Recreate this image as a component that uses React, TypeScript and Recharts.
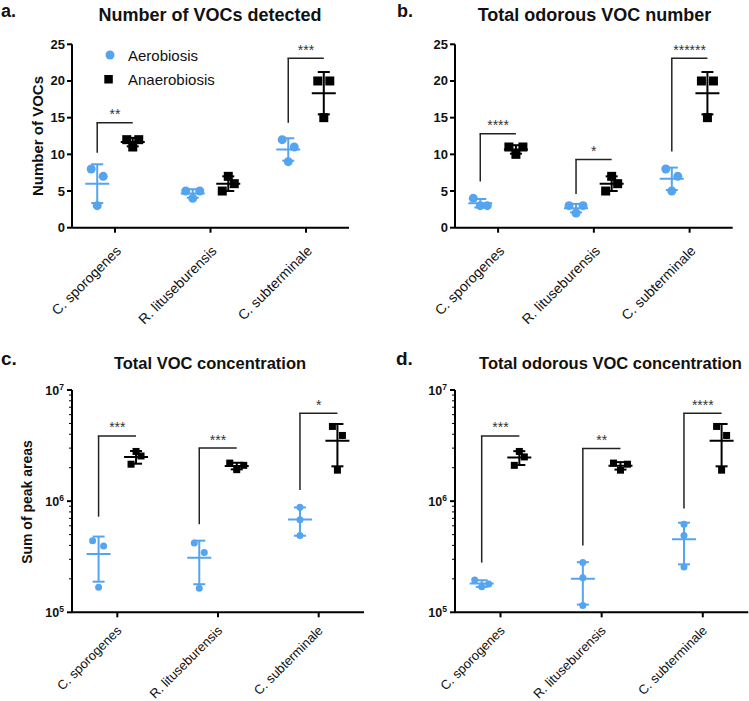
import React from 'react';
import { ScatterChart, Scatter, XAxis, YAxis, ErrorBar, ReferenceLine } from 'recharts';

const categories = ['C. sporogenes', 'R. lituseburensis', 'C. subterminale'];
const seriesNames = ['Aerobiosis', 'Anaerobiosis'];

// Panel a: Number of VOCs detected
const aAero = [[8, 7, 3], [5, 5, 4], [12, 11, 9]];
const aAnaero = [[12, 12, 11], [7, 6, 5], [20, 20, 15]];
const aAeroJitter = [[-6, 6, 0], [-7, 7, 0], [-6, 6, 0]];
const aAnaeroJitter = [[-6, 6, 0], [0, 6, -6], [-6, 6, 0]];
const aBracketLow = [10.2, null, 14.3];
const aBracketHigh = [14.3, null, 23.1];
const aBracketLabel = ['**', '', '***'];

// Panel b: Total odorous VOC number
const bAero = [[4, 3, 3], [3, 3, 2], [8, 7, 5]];
const bAnaero = [[11, 11, 10], [7, 6, 5], [20, 20, 15]];
const bAeroJitter = [[-7, 0, 7], [-7, 7, 0], [-6, 6, 0]];
const bAnaeroJitter = [[-7, 7, 0], [0, 6, -6], [-6, 6, 0]];
const bBracketLow = [6.3, 4.6, 10.4];
const bBracketHigh = [12.8, 9.3, 23.1];
const bBracketLabel = ['****', '*', '******'];

// Panel c: Total VOC concentration
const cAero = [[4.4e5, 3.95e5, 1.68e5], [4.2e5, 3.45e5, 1.65e5], [8.8e5, 6.8e5, 4.9e5]];
const cAnaero = [[2.8e6, 2.55e6, 2.15e6], [2.2e6, 2.1e6, 1.92e6], [4.7e6, 3.9e6, 1.9e6]];
const cAeroJitter = [[-6, 5, 0], [-5, 5, 0], [0, 0, 0]];
const cAnaeroJitter = [[0, 5, -5], [-7, 7, 0], [-5, 5, 0]];
const cBracketLow = [7.25e5, 6.2e5, 1.26e6];
const cBracketHigh = [3.86e6, 3.0e6, 6.17e6];
const cBracketLabel = ['***', '***', '*'];

// Panel d: Total odorous VOC concentration
const dAero = [[1.95e5, 1.7e5, 1.8e5], [2.8e5, 2.05e5, 1.15e5], [6.2e5, 4.9e5, 2.55e5]];
const dAnaero = [[2.8e6, 2.5e6, 2.1e6], [2.2e6, 2.15e6, 1.9e6], [4.7e6, 3.9e6, 1.9e6]];
const dAeroJitter = [[-7, 0, 7], [0, 0, 0], [0, 0, 0]];
const dAnaeroJitter = [[0, 5, -5], [-7, 7, 0], [-5, 5, 0]];
const dBracketLow = [2.8e5, 4.0e5, 8.6e5];
const dBracketHigh = [3.86e6, 2.98e6, 6.17e6];
const dBracketLabel = ['***', '**', '****'];

const linearTicks = [0, 5, 10, 15, 20, 25];
const logTicks = [1e5, 2e5, 3e5, 4e5, 5e5, 6e5, 7e5, 8e5, 9e5, 1e6, 2e6, 3e6, 4e6, 5e6, 6e6, 7e6, 8e6, 9e6, 1e7];

const BLUE = '#55a4ef';
const BLACK = '#000000';
const FONT = '"Liberation Sans", Arial, Helvetica, sans-serif';
const OFF = 0.186;

const mean = (a: number[]) => a.reduce((s, v) => s + v, 0) / a.length;
const sd = (a: number[]) => {
  const m = mean(a);
  return Math.sqrt(a.reduce((s, v) => s + (v - m) * (v - m), 0) / (a.length - 1));
};

const makeXTick = (fontSize: number, dx: number, dy: number) => (props: any) => {
  const { x, y, payload } = props;
  return (
    <g>
      <line x1={x} x2={x} y1={y} y2={y + 5} stroke="#000" strokeWidth={2} />
      <text
        transform={`translate(${x + dx},${y + dy}) rotate(-45)`}
        textAnchor="end"
        fontSize={fontSize}
        fontFamily={FONT}
        fill="#111"
      >
        {categories[payload.value]}
      </text>
    </g>
  );
};

const YTickLinear = (props: any) => {
  const { x, y, payload } = props;
  return (
    <g>
      <line x1={x - 5} x2={x} y1={y} y2={y} stroke="#000" strokeWidth={2} />
      <text x={x - 7} y={y + 4.5} textAnchor="end" fontSize={13} fontWeight="bold" fontFamily={FONT} fill="#111">
        {payload.value}
      </text>
    </g>
  );
};

const YTickLog = (props: any) => {
  const { x, y, payload } = props;
  const e = Math.log10(payload.value);
  const major = Math.abs(e - Math.round(e)) < 1e-6;
  if (!major) {
    return <line x1={x - 3} x2={x} y1={y} y2={y} stroke="#000" strokeWidth={1} />;
  }
  return (
    <g>
      <line x1={x - 5} x2={x} y1={y} y2={y} stroke="#000" strokeWidth={2} />
      <text x={x - 8} y={y + 4.5} textAnchor="end" fontSize={12.5} fontWeight="bold" fontFamily={FONT} fill="#111">
        <tspan>10</tspan>
        <tspan dy={-5} fontSize={8.5}>{Math.round(e)}</tspan>
      </text>
    </g>
  );
};

type PanelProps = {
  left: number;
  top: number;
  width: number;
  height: number;
  margin: { top: number; right: number; bottom: number; left: number };
  aero: number[][];
  anaero: number[][];
  aeroJitter: number[][];
  anaeroJitter: number[][];
  brLow: (number | null)[];
  brHigh: (number | null)[];
  brLabel: string[];
  log: boolean;
  marker: number;
  xFont: number;
  xDx: number;
  xDy: number;
};

function Panel(p: PanelProps) {
  const aeroPts = p.aero.flatMap((vals, ci) => vals.map((v, k) => ({ x: ci - OFF, y: v, dx: p.aeroJitter[ci][k] })));
  const anaeroPts = p.anaero.flatMap((vals, ci) => vals.map((v, k) => ({ x: ci + OFF, y: v, dx: p.anaeroJitter[ci][k] })));
  const aeroStats = p.aero.map((vals, ci) => ({ x: ci - OFF, y: mean(vals), err: sd(vals) }));
  const anaeroStats = p.anaero.map((vals, ci) => ({ x: ci + OFF, y: mean(vals), err: sd(vals) }));
  const labels = p.brLabel
    .map((l, ci) => ({ x: ci, y: p.brHigh[ci], label: l }))
    .filter((d) => d.y != null);
  const r = p.marker / 2;
  const XTick = makeXTick(p.xFont, p.xDx, p.xDy);

  const circleShape = (s: any) => (
    <circle cx={s.cx + (s.payload?.dx || 0)} cy={s.cy} r={r} fill={BLUE} />
  );
  const squareShape = (s: any) => (
    <rect x={s.cx + (s.payload?.dx || 0) - r} y={s.cy - r} width={p.marker} height={p.marker} fill={BLACK} />
  );
  const meanShape = (color: string) => (s: any) => (
    <line x1={s.cx - 12} x2={s.cx + 12} y1={s.cy} y2={s.cy} stroke={color} strokeWidth={2} />
  );
  const labelShape = (s: any) => (
    <text x={s.cx} y={s.cy - 3.5} textAnchor="middle" fontSize={14} fontFamily={FONT} fill="#333">
      {s.payload?.label}
    </text>
  );

  return (
    <div style={{ position: 'absolute', left: p.left, top: p.top }}>
      <ScatterChart width={p.width} height={p.height} margin={p.margin}>
        <XAxis
          type="number"
          dataKey="x"
          domain={[-0.45, 2.45]}
          ticks={[0, 1, 2]}
          interval={0}
          allowDataOverflow
          tick={(t: any) => <XTick {...t} />}
          tickSize={0}
          tickMargin={0}
          tickLine={false}
          axisLine={{ stroke: '#000', strokeWidth: 2 }}
          height={80}
        />
        <YAxis
          type="number"
          dataKey="y"
          scale={p.log ? 'log' : 'linear'}
          domain={p.log ? [1e5, 1e7] : [0, 25]}
          ticks={p.log ? logTicks : linearTicks}
          interval={0}
          allowDataOverflow
          width={60}
          tick={(t: any) => (p.log ? <YTickLog {...t} /> : <YTickLinear {...t} />)}
          tickSize={0}
          tickMargin={0}
          tickLine={false}
          axisLine={{ stroke: '#000', strokeWidth: 2 }}
        />
        {p.brLow.map((lo, ci) =>
          lo == null ? null : (
            <ReferenceLine
              key={`v${ci}`}
              segment={[{ x: ci - OFF, y: lo }, { x: ci - OFF, y: p.brHigh[ci] as number }]}
              stroke="#222"
              strokeWidth={1.5}
              ifOverflow="visible"
            />
          )
        )}
        {p.brLow.map((lo, ci) =>
          lo == null ? null : (
            <ReferenceLine
              key={`h${ci}`}
              segment={[{ x: ci - OFF - 0.008, y: p.brHigh[ci] as number }, { x: ci + OFF, y: p.brHigh[ci] as number }]}
              stroke="#222"
              strokeWidth={1.5}
              ifOverflow="visible"
            />
          )
        )}
        <Scatter name={seriesNames[0]} data={aeroPts} shape={circleShape} isAnimationActive={false} />
        <Scatter name={seriesNames[1]} data={anaeroPts} shape={squareShape} isAnimationActive={false} />
        <Scatter data={aeroStats} shape={meanShape(BLUE)} isAnimationActive={false}>
          <ErrorBar dataKey="err" direction="y" width={6} stroke={BLUE} strokeWidth={2} isAnimationActive={false} />
        </Scatter>
        <Scatter data={anaeroStats} shape={meanShape(BLACK)} isAnimationActive={false}>
          <ErrorBar dataKey="err" direction="y" width={6} stroke={BLACK} strokeWidth={2} isAnimationActive={false} />
        </Scatter>
        <Scatter data={labels} shape={labelShape} isAnimationActive={false} />
      </ScatterChart>
    </div>
  );
}

export default function App() {
  return (
    <div style={{ position: 'absolute', left: 0, top: 0, width: 749, height: 701, background: '#fff', overflow: 'hidden' }}>
      <Panel
        left={0} top={0} width={375} height={330}
        margin={{ top: 44.3, right: 26, bottom: 22.3, left: 12 }}
        aero={aAero} anaero={aAnaero} aeroJitter={aAeroJitter} anaeroJitter={aAnaeroJitter}
        brLow={aBracketLow} brHigh={aBracketHigh} brLabel={aBracketLabel}
        log={false} marker={9} xFont={14} xDx={7} xDy={24}
      />
      <Panel
        left={375} top={0} width={374} height={330}
        margin={{ top: 44.3, right: 16.3, bottom: 22.3, left: 20 }}
        aero={bAero} anaero={bAnaero} aeroJitter={bAeroJitter} anaeroJitter={bAnaeroJitter}
        brLow={bBracketLow} brHigh={bBracketHigh} brLabel={bBracketLabel}
        log={false} marker={9} xFont={14} xDx={7} xDy={24}
      />
      <Panel
        left={0} top={320} width={375} height={381}
        margin={{ top: 70, right: 11, bottom: 8.7, left: 12 }}
        aero={cAero} anaero={cAnaero} aeroJitter={cAeroJitter} anaeroJitter={cAnaeroJitter}
        brLow={cBracketLow} brHigh={cBracketHigh} brLabel={cBracketLabel}
        log={true} marker={7} xFont={13} xDx={5} xDy={19}
      />
      <Panel
        left={375} top={320} width={374} height={381}
        margin={{ top: 70, right: 0.7, bottom: 8.7, left: 20 }}
        aero={dAero} anaero={dAnaero} aeroJitter={dAeroJitter} anaeroJitter={dAnaeroJitter}
        brLow={dBracketLow} brHigh={dBracketHigh} brLabel={dBracketLabel}
        log={true} marker={7} xFont={13} xDx={5} xDy={19}
      />
      <svg width={749} height={701} style={{ position: 'absolute', left: 0, top: 0, pointerEvents: 'none' }}>
        <g fontFamily={FONT} fill="#111">
          <text x={1} y={16.5} fontSize={18} fontWeight="bold">a.</text>
          <text x={397} y={16.5} fontSize={18} fontWeight="bold">b.</text>
          <text x={1} y={365} fontSize={19} fontWeight="bold">c.</text>
          <text x={396} y={365} fontSize={19} fontWeight="bold">d.</text>
          <text x={210} y={20.5} fontSize={18} fontWeight="bold" textAnchor="middle">Number of VOCs detected</text>
          <text x={594.5} y={20.5} fontSize={18} fontWeight="bold" textAnchor="middle">Total odorous VOC number</text>
          <text x={210} y={369} fontSize={16.5} fontWeight="bold" textAnchor="middle">Total VOC concentration</text>
          <text x={610.5} y={369} fontSize={16.5} fontWeight="bold" textAnchor="middle">Total odorous VOC concentration</text>
          <text transform="translate(43,136) rotate(-90)" fontSize={15} fontWeight="bold" textAnchor="middle">Number of VOCs</text>
          <text transform="translate(31.5,502) rotate(-90)" fontSize={14} fontWeight="bold" textAnchor="middle">Sum of peak areas</text>
          <circle cx={110} cy={55} r={4.5} fill={BLUE} />
          <text x={128} y={60.5} fontSize={15}>{seriesNames[0]}</text>
          <rect x={104.3} y={75} width={8.5} height={8.5} fill={BLACK} />
          <text x={128} y={84.5} fontSize={15}>{seriesNames[1]}</text>
        </g>
      </svg>
    </div>
  );
}
